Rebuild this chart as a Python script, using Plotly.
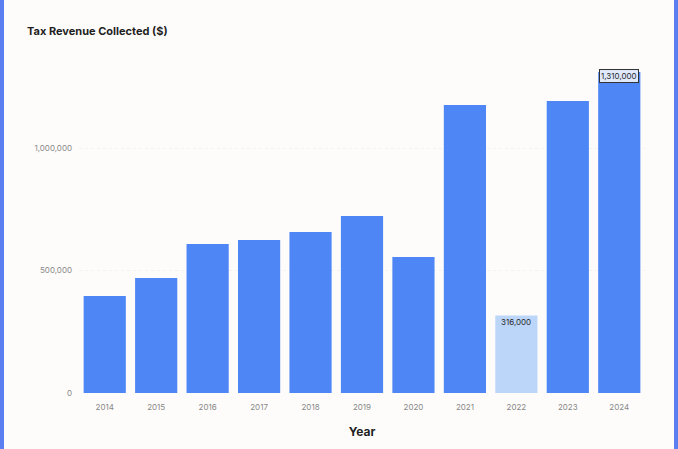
import plotly.graph_objects as go

# Annual tax revenue collected, in dollars
years = ["2014", "2015", "2016", "2017", "2018", "2019", "2020", "2021", "2022", "2023", "2024"]
revenue = [396000, 469000, 608000, 624000, 657000, 722000, 555000, 1176000, 316000, 1192000, 1310000]
highlight_years = ["2022"]
labeled_years = ["2022", "2024"]

y_tick_vals = [0, 500000, 1000000]
y_tick_text = ["0", "500,000", "1,000,000"]

BLUE = "#4f86f6"
LIGHT = "#bcd6fa"
BG = "#fdfcfa"

colors = [LIGHT if y in highlight_years else BLUE for y in years]

fig = go.Figure(
    go.Bar(
        x=years,
        y=revenue,
        marker=dict(color=colors, line=dict(width=0)),
        hoverinfo="x+y",
    )
)

W, H = 678, 449
ML, MR, MT, MB = 79, 33, 50, 56
pw = W - ML - MR
ph = H - MT - MB


def px_x(p):
    return (p - ML) / pw


def px_y(p):
    return (H - MB - p) / ph


annotations = [
    dict(
        text="<b>Tax Revenue Collected ($)</b>",
        xref="paper", yref="paper",
        x=px_x(25), y=px_y(31),
        xanchor="left", yanchor="middle",
        showarrow=False,
        font=dict(family="Inter", size=11, color="#1f1f1f"),
    )
]

for i, (yr, val) in enumerate(zip(years, revenue)):
    if yr not in labeled_years:
        continue
    boxed = yr == years[-1]
    annotations.append(
        dict(
            x=i, y=val, xref="x", yref="y",
            text=f"{val:,}",
            showarrow=False,
            yanchor="middle",
            yshift=-6 if not boxed else -4,
            font=dict(family="Inter", size=8, color="#2a2a2a"),
            bgcolor="#dfe9fb" if boxed else "rgba(0,0,0,0)",
            bordercolor="#333333" if boxed else "rgba(0,0,0,0)",
            borderwidth=1 if boxed else 0,
            borderpad=1,
        )
    )

# Card border along the left and right edges
shapes = [
    dict(type="rect", xref="paper", yref="paper",
         x0=px_x(0), x1=px_x(4), y0=px_y(H), y1=px_y(0),
         fillcolor="#5b7ff0", line=dict(width=0), layer="above"),
    dict(type="rect", xref="paper", yref="paper",
         x0=px_x(W - 4), x1=px_x(W), y0=px_y(H), y1=px_y(0),
         fillcolor="#5b7ff0", line=dict(width=0), layer="above"),
]

fig.update_layout(
    width=W, height=H,
    margin=dict(l=ML, r=MR, t=MT, b=MB),
    paper_bgcolor=BG,
    plot_bgcolor=BG,
    bargap=0.18,
    showlegend=False,
    font=dict(family="Inter", color="#777777", size=8),
    xaxis=dict(
        type="category",
        range=[-0.5, len(years) - 0.5],
        showgrid=False,
        zeroline=False,
        showline=False,
        ticks="",
        ticklabelstandoff=8,
        tickfont=dict(size=8, color="#888888"),
        title=dict(text="<b>Year</b>", font=dict(size=12, color="#1f1f1f"), standoff=16),
    ),
    yaxis=dict(
        range=[0, 1400000],
        tickvals=y_tick_vals,
        ticktext=y_tick_text,
        showgrid=True,
        gridcolor="rgba(0,0,0,0.04)",
        griddash="dot",
        zeroline=False,
        showline=False,
        ticks="",
        ticklabelstandoff=6,
        tickfont=dict(size=8, color="#888888"),
    ),
    annotations=annotations,
    shapes=shapes,
)

fig.write_html("out.html")
